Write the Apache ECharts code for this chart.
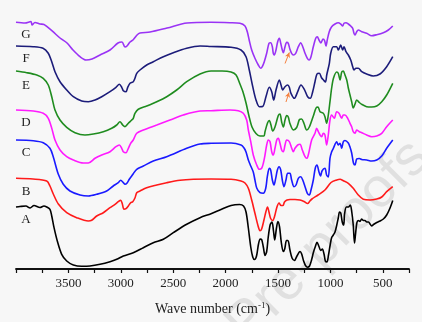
<!DOCTYPE html>
<html>
<head>
<meta charset="utf-8">
<script src="https://cdn.jsdelivr.net/npm/echarts@6/dist/echarts.min.js"></script>
<style>
  html, body { margin: 0; padding: 0; background: #f7f7f7; }
  #chart { width: 422px; height: 322px; }
</style>
</head>
<body>
<div id="chart"></div>
<script>
// FTIR spectra, stacked with vertical offsets: [wavenumber (cm-1), transmittance (a.u.)]
const curveLabels = ['A', 'B', 'C', 'D', 'E', 'F', 'G'];

const curveA = [[4000,62],[3962,62.5],[3905,63],[3866,61],[3828,63.5],[3771,61.5],[3733,63],[3707,62],[3676,59.7],[3659,53],[3637,41.3],[3606,28],[3564,14.7],[3516,8],[3453,4],[3373,2.7],[3294,3],[3198,4.7],[3103,7.3],[3039,9.7],[2976,13],[2881,16.3],[2785,21.3],[2690,26.3],[2594,29.7],[2499,36.3],[2371,44.7],[2244,51.3],[2139,55.3],[2044,59.5],[1948,63.5],[1867,64.5],[1829,63],[1805,57],[1783,41],[1760,22],[1741,12],[1724,9.5],[1705,13],[1686,25],[1670,30],[1656,29.5],[1640,22],[1624,13.5],[1608,17.5],[1593,32],[1574,44.5],[1557,47],[1543,38],[1531,29],[1516,40],[1501,47.5],[1485,42],[1469,27],[1450,17.5],[1436,20],[1419,28.5],[1405,28.5],[1386,19],[1366,11],[1343,8.5],[1319,13],[1290,17.5],[1274,15],[1257,8.5],[1238,3.5],[1218,1.8],[1199,3],[1180,9],[1161,17],[1142,23],[1128,26.8],[1109,22.5],[1093,18.5],[1077,20],[1061,15],[1047,7.5],[1033,7],[1018,14],[1004,23],[988,31.5],[972,34],[956,37],[939,44],[925,51],[913,57],[901,56],[887,47],[873,44],[865,55],[848,62],[829,62],[810,64],[796,57],[782,44],[770,26],[761,34],[748,46],[734,48.5],[718,47.5],[702,50],[684,48.5],[670,48.5],[653,47],[636,47],[622,45],[606,43],[589,44.5],[558,46.5],[527,48],[495,50],[463,54],[431,61],[405,68.5]];

const curveB = [[4000,90.7],[3838,90],[3707,88],[3676,83],[3644,75],[3596,65],[3516,56.3],[3421,51.3],[3310,48],[3278,48.7],[3230,53],[3167,56.3],[3103,61.3],[3055,64.7],[3024,67.3],[3001,68.7],[2986,65.3],[2970,59.7],[2950,60.3],[2928,63],[2906,66.3],[2886,67.3],[2864,71.3],[2848,76.3],[2817,78],[2753,81.3],[2657,84],[2562,86.3],[2435,88.7],[2308,89.7],[2139,90],[1948,89.7],[1853,88],[1815,86],[1783,80.7],[1751,69],[1720,55.7],[1688,42.3],[1672,38.3],[1656,40],[1634,49],[1615,57.5],[1600,62],[1586,57],[1570,50.5],[1551,48.5],[1533,52.5],[1510,62],[1490,66],[1471,63.5],[1452,63.5],[1438,67],[1414,69],[1386,69.5],[1338,69.5],[1290,69],[1252,67.5],[1218,65.5],[1195,68],[1176,70],[1118,74],[1052,79],[994,86.5],[940,89],[908,89.7],[877,88.3],[829,85.7],[782,80.7],[734,74],[686,69.7],[622,69],[558,70],[510,72],[463,77.3],[405,82.3]];

const curveC = [[4000,129],[3835,128.3],[3740,126.3],[3676,120.7],[3644,112],[3596,94.7],[3549,84.7],[3485,78],[3389,74],[3310,73],[3230,74.7],[3135,78],[3072,83],[3024,86.3],[3001,88.7],[2976,86.3],[2960,84.7],[2938,86.3],[2919,89.7],[2896,93],[2881,95.3],[2848,99.7],[2785,103],[2690,108],[2562,112.3],[2371,120.7],[2244,125],[2139,125.7],[1948,126],[1853,124],[1824,121],[1805,117],[1783,109],[1760,103],[1736,97],[1720,89],[1703,81],[1672,76.3],[1640,75.7],[1617,80.7],[1602,92.3],[1583,100.7],[1570,99],[1554,89],[1538,84],[1522,90.7],[1506,99],[1490,102.3],[1474,99],[1459,89],[1443,82.3],[1424,89],[1408,95.7],[1386,95.7],[1370,89],[1347,82.3],[1328,84],[1306,90.7],[1283,92.3],[1264,89],[1242,82.3],[1220,75.7],[1201,74],[1185,79],[1163,89],[1144,101],[1128,104],[1109,97],[1094,93],[1080,98],[1052,100.7],[1036,94],[1020,92],[1004,110.7],[988,117.3],[972,120.7],[940,127.3],[925,124],[908,125.7],[892,120.7],[877,127.3],[861,128.5],[829,126],[813,122],[797,116],[780,106],[765,104],[749,110],[724,110.5],[701,109.5],[654,109],[606,108],[558,109],[510,113],[463,120.7],[405,129]];

const curveD = [[4000,159],[3835,158],[3740,155.7],[3692,150.7],[3659,140.7],[3628,129],[3580,119],[3516,112.3],[3453,109],[3358,106],[3310,106],[3246,110.7],[3182,114],[3103,117.3],[3046,122.3],[3014,124],[2991,120.7],[2976,117.3],[2950,116.3],[2928,120.7],[2906,125.7],[2881,129],[2848,135.7],[2785,139],[2657,144],[2531,149],[2404,154],[2244,158],[2139,158.3],[1958,159],[1879,158.3],[1831,155.7],[1799,149],[1783,139],[1760,127.3],[1736,114],[1703,104],[1678,99.7],[1656,100.7],[1640,105.7],[1624,114],[1608,124],[1593,129],[1576,127.3],[1560,117.3],[1545,114],[1529,120.7],[1512,129],[1497,130.7],[1481,125.7],[1465,119],[1449,117.3],[1433,124],[1417,129],[1392,127.3],[1369,120.7],[1354,117.3],[1338,120.7],[1312,124],[1290,124.7],[1268,119],[1242,112.3],[1226,110.7],[1211,114],[1179,129],[1147,135.7],[1131,140.7],[1115,137.3],[1099,134],[1083,132.3],[1068,135.7],[1052,134],[1036,124],[1020,134],[1004,149],[988,154],[963,150.7],[940,157.3],[918,155.7],[892,150.7],[877,154],[861,154],[835,150.7],[813,145.7],[797,142.3],[782,137.3],[765,135.7],[749,139],[724,137.3],[701,136.3],[654,134],[606,132.3],[558,133],[510,135.7],[463,142.3],[405,149]];

const curveE = [[4000,198],[3898,196.3],[3802,194],[3740,190.7],[3692,184],[3659,172.3],[3628,159],[3580,149],[3516,141.7],[3437,136.3],[3342,134],[3262,135],[3167,137.3],[3087,140.7],[3039,144],[3008,147.3],[2982,144],[2960,142.3],[2928,145.7],[2896,149],[2881,150.7],[2865,155.7],[2833,159.7],[2753,163],[2657,167.3],[2562,172.3],[2467,179],[2371,187.3],[2244,195],[2139,198],[2034,198],[1948,197],[1900,194],[1863,185],[1834,177],[1805,166],[1777,153],[1748,142],[1710,135.5],[1672,133],[1634,133],[1624,137.3],[1600,146],[1583,148.5],[1567,144],[1551,138],[1529,142],[1497,153.5],[1481,155],[1465,147],[1449,142],[1433,149],[1417,153.5],[1402,152],[1386,145.5],[1354,139],[1322,141.5],[1295,149.5],[1274,150],[1252,145.5],[1226,139],[1201,142],[1163,153],[1137,161],[1118,162],[1099,157.3],[1068,155.7],[1052,152.3],[1036,145.7],[1020,154],[1004,167.3],[988,181],[970,191],[940,197],[925,195.7],[908,189],[892,197],[877,198],[861,194],[844,189],[829,181],[813,174],[797,167.3],[782,161],[765,165],[749,169],[724,166.5],[698,164.5],[654,162.3],[606,162],[558,163],[510,167.3],[463,174],[405,185.7]];

const curveF = [[4000,223],[3838,222.3],[3742,220.7],[3692,215.7],[3659,207.3],[3628,197.3],[3580,187.3],[3516,179],[3453,172.3],[3373,168],[3310,167.3],[3246,169],[3182,172.3],[3103,177.3],[3046,181.7],[3014,184.7],[2991,181.7],[2976,178.3],[2950,177.3],[2934,181.7],[2912,185.7],[2881,187.3],[2865,190.7],[2848,195.7],[2817,199],[2753,204],[2690,207.3],[2594,212.3],[2499,216.3],[2371,220.7],[2244,223],[2139,222.5],[1948,221.7],[1853,219],[1805,212.3],[1774,199],[1741,182.3],[1710,169],[1678,162.3],[1646,162.5],[1615,172.3],[1583,181.7],[1560,177.3],[1541,169],[1519,179],[1487,189],[1471,184],[1455,179],[1433,182.3],[1407,184],[1392,181.7],[1376,175.7],[1344,170.7],[1312,177.3],[1281,184],[1249,179.7],[1217,172.3],[1192,170.7],[1169,177.3],[1147,187.3],[1128,195],[1106,195.7],[1083,191],[1066,189],[1047,187],[1035,194],[1010,205.7],[997,215.7],[972,222.3],[940,222.3],[924,219],[902,224],[883,219],[870,222.3],[851,217.3],[829,214],[806,209],[787,202.3],[775,199],[756,200.7],[734,200.7],[701,197.3],[654,195],[591,193],[527,195],[463,202.3],[405,212.3]];

const curveG = [[4000,246.7],[3914,246],[3857,247.5],[3847,244],[3819,246.5],[3771,245],[3733,244.5],[3704,242.3],[3647,237.3],[3580,231],[3513,226],[3456,219],[3389,212.3],[3332,209],[3275,210],[3198,214],[3103,219],[3027,226],[2989,227],[2960,222],[2941,223],[2912,227],[2884,229],[2845,234],[2817,236],[2721,237],[2559,241],[2368,246],[2139,246.7],[1958,246.3],[1863,245.7],[1815,243],[1793,237.3],[1775,229],[1751,219],[1720,210.7],[1688,204],[1665,200.7],[1650,202.3],[1631,207.3],[1608,215.7],[1586,225.7],[1570,226.3],[1554,222.3],[1545,215.7],[1535,214],[1519,219],[1503,227.3],[1487,230.7],[1474,225.7],[1459,219],[1449,216.3],[1433,222.3],[1417,226.7],[1402,225.7],[1386,219.7],[1370,215.7],[1354,214],[1331,215.7],[1306,222.3],[1283,226.3],[1264,222.3],[1242,215.7],[1220,210.7],[1204,209],[1185,212.3],[1163,222.3],[1140,230.7],[1125,232.3],[1109,229],[1090,226],[1071,230],[1056,228.5],[1042,223],[1030,229],[1011,237.3],[988,242.3],[956,245],[925,246.3],[902,245],[883,243],[870,245.7],[851,246.3],[829,245],[806,243],[787,240.7],[775,235.7],[765,234],[749,237.3],[734,239],[701,237.3],[654,235.7],[606,233.3],[558,234.3],[495,236.3],[447,239],[405,243]];

// Arrow annotations marking the ~1400 cm-1 band in G and F
const arrowG = [[1433, 205.5], [1392, 216.5]];
const arrowF = [[1424, 167], [1395, 176.5]];

const curves = [curveA, curveB, curveC, curveD, curveE, curveF, curveG];
const colors = ['#000000', '#ff1a1a', '#1a1aff', '#ff1aff', '#1f8c1f', '#1c1c7a', '#9a33f5'];
// Where each letter sits, in pixels
const labelPos = [[26, 220], [26, 192], [26, 153], [26, 123], [26, 86], [26, 59], [26, 35]];

const serif = '"Liberation Serif", "DejaVu Serif", serif';

function arrowLine(pair) {
  return {
    silent: true,
    symbol: ['none', 'arrow'],
    symbolSize: [4, 5],
    label: { show: false },
    lineStyle: { color: '#f5803e', width: 1, type: 'solid' },
    data: [[{ coord: pair[0] }, { coord: pair[1] }]]
  };
}

const series = curves.map((c, i) => {
  const s = {
    name: curveLabels[i],
    type: 'line',
    data: c,
    symbol: 'none',
    smooth: 0.3,
    lineStyle: { color: colors[i], width: 1.6 },
    z: 3 + i
  };
  if (curveLabels[i] === 'G') s.markLine = arrowLine(arrowG);
  if (curveLabels[i] === 'F') s.markLine = arrowLine(arrowF);
  return s;
});

const chart = echarts.init(document.getElementById('chart'), null, { renderer: 'canvas' });
chart.setOption({
  animation: false,
  backgroundColor: '#f7f7f7',
  grid: { left: 16, right: 13, top: 4, bottom: 53 },
  xAxis: {
    type: 'value',
    inverse: true,
    min: 250,
    max: 4000,
    interval: 250,
    axisLine: { lineStyle: { color: '#111', width: 1.8 } },
    axisTick: { length: 4, lineStyle: { color: '#111', width: 1.2 } },
    splitLine: { show: false },
    axisLabel: {
      margin: 8,
      color: '#222',
      fontFamily: serif,
      fontSize: 13,
      formatter: v => (v % 500 === 0 && v < 4000) ? String(v) : ''
    },
    name: 'Wave number (cm{sup|-1})',
    nameLocation: 'middle',
    nameGap: 32,
    nameTextStyle: {
      color: '#222',
      fontFamily: serif,
      fontSize: 14,
      rich: { sup: { fontFamily: serif, fontSize: 9, verticalAlign: 'top', padding: [0, 0, 8, 0], color: '#222' } }
    }
  },
  yAxis: { type: 'value', min: 0, max: 265, show: false },
  series: series,
  graphic: [
    {
      type: 'text',
      z: -1,
      silent: true,
      x: 95, y: 475,
      rotation: Math.PI / 4,
      style: {
        text: 'Journal Pre-proofs',
        fontFamily: '"Liberation Sans", Arial, sans-serif',
        fontSize: 56,
        fill: 'rgba(0,0,0,0.09)',
        textAlign: 'left',
        textVerticalAlign: 'middle'
      }
    }
  ].concat(curveLabels.map((t, i) => ({
    type: 'text',
    x: labelPos[i][0],
    y: labelPos[i][1],
    silent: true,
    style: {
      text: t,
      fontFamily: serif,
      fontSize: 13,
      fill: '#222',
      textAlign: 'center',
      textVerticalAlign: 'middle'
    }
  })))
});
</script>
</body>
</html>
